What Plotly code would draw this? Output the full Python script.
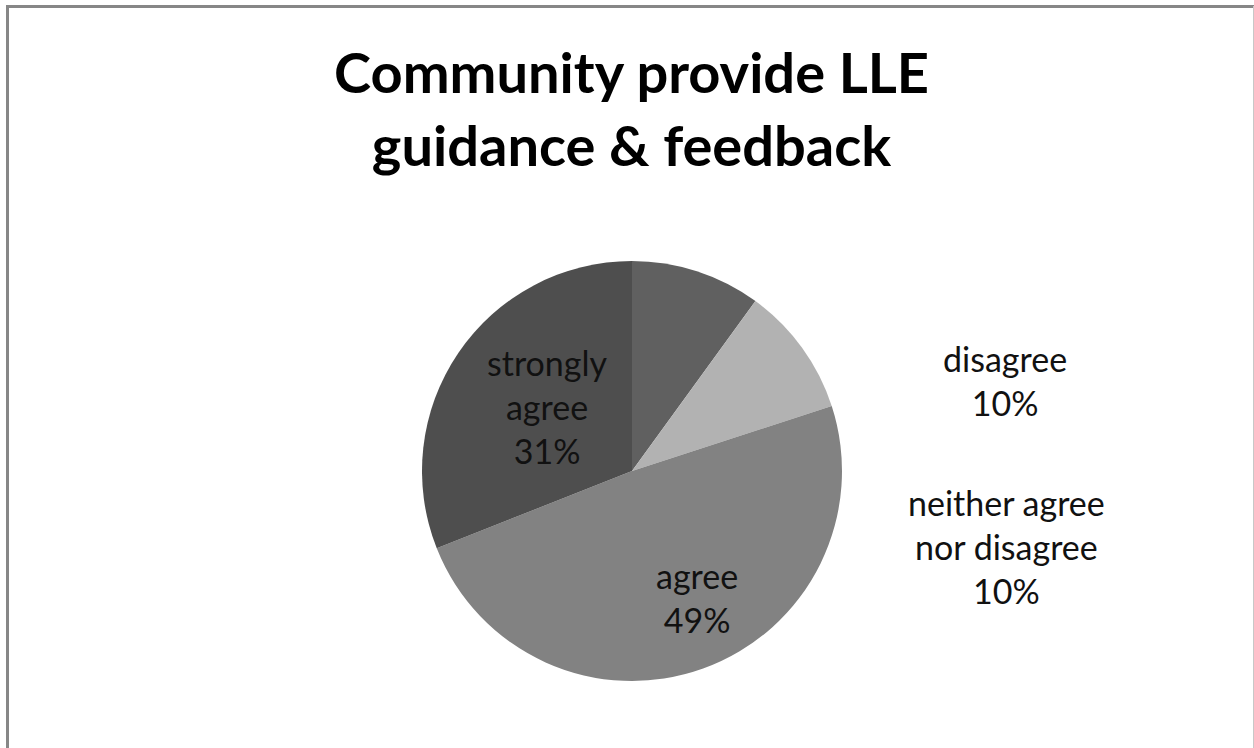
import plotly.graph_objects as go

# Survey responses
categories = ["disagree", "neither agree nor disagree", "agree", "strongly agree"]
label_lines = ["disagree", "neither agree<br>nor disagree", "agree", "strongly<br>agree"]
percentages = [10, 10, 49, 31]
slice_colors = ["#606060", "#b2b2b2", "#828282", "#4e4e4e"]

W, H = 1254, 748
FONT = "Lato"


def px_x(x):
    return x / W


def px_y(y):
    return 1 - y / H


# Pie centred at (632, 471) px with radius 210 px
cx, cy, r = 632, 471, 210

fig = go.Figure(
    go.Pie(
        labels=categories,
        values=percentages,
        sort=False,
        direction="clockwise",
        rotation=0,
        marker=dict(colors=slice_colors, line=dict(width=0)),
        textinfo="none",
        hoverinfo="label+percent",
        showlegend=False,
        domain=dict(x=[px_x(cx - r), px_x(cx + r)], y=[px_y(cy + r), px_y(cy - r)]),
    )
)

# Data label anchor positions (px), one per category
label_pos = [(1005, 380), (1007, 546), (697, 597), (547, 407)]
total = sum(percentages)
for lab, val, (lx, ly) in zip(label_lines, percentages, label_pos):
    fig.add_annotation(
        x=px_x(lx), y=px_y(ly), xref="paper", yref="paper",
        text=f"{lab}<br>{round(val / total * 100)}%",
        showarrow=False, xanchor="center", yanchor="middle",
        font=dict(family=FONT, size=34, color="#111111"),
    )

# Chart title
fig.add_annotation(
    x=px_x(631), y=px_y(108), xref="paper", yref="paper",
    text="<b>Community provide LLE<br>guidance & feedback</b>",
    showarrow=False, xanchor="center", yanchor="middle",
    font=dict(family=FONT, size=56, color="#000000"),
)

# Chart frame
fig.add_shape(type="line", xref="paper", yref="paper",
              x0=px_x(7.5), x1=px_x(7.5), y0=0, y1=px_y(6),
              line=dict(color="#878787", width=3))
fig.add_shape(type="line", xref="paper", yref="paper",
              x0=px_x(6), x1=1, y0=px_y(6.5), y1=px_y(6.5),
              line=dict(color="#878787", width=3))
fig.add_shape(type="line", xref="paper", yref="paper",
              x0=px_x(1253.5), x1=px_x(1253.5), y0=0, y1=px_y(6),
              line=dict(color="#c8c8c8", width=1))

fig.update_layout(
    width=W, height=H,
    margin=dict(l=0, r=0, t=0, b=0),
    paper_bgcolor="white",
    plot_bgcolor="white",
)

fig.write_html("out.html")
